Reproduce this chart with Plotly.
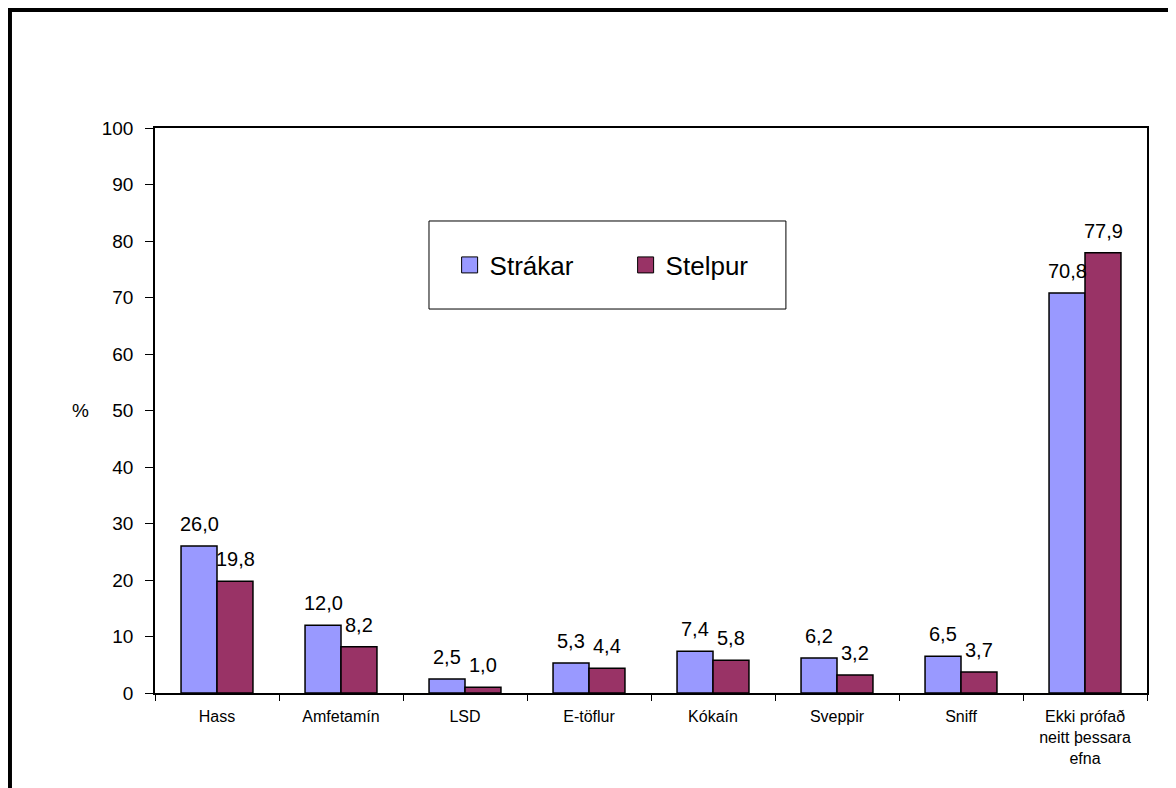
import plotly.graph_objects as go

categories = ["Hass", "Amfetamín", "LSD", "E-töflur", "Kókaín", "Sveppir", "Sniff",
              "Ekki prófað<br>neitt þessara<br>efna"]
strakar = [26.0, 12.0, 2.5, 5.3, 7.4, 6.2, 6.5, 70.8]
stelpur = [19.8, 8.2, 1.0, 4.4, 5.8, 3.2, 3.7, 77.9]
series_names = ["Strákar", "Stelpur"]
colors = ["#9999FF", "#993366"]
y_ticks = list(range(0, 101, 10))

FONT = "Arial, Liberation Sans, sans-serif"

def fmt(v):
    return f"{v:.1f}".replace(".", ",")

fig = go.Figure()
for name, vals, col in zip(series_names, [strakar, stelpur], colors):
    fig.add_trace(go.Bar(
        x=categories, y=vals, name=name, showlegend=False,
        marker=dict(color=col, line=dict(color="black", width=1.5)),
        hoverinfo="skip",
    ))
    # legend proxies with bigger squares
    fig.add_trace(go.Scatter(
        x=[None], y=[None], mode="markers", name=name, showlegend=True,
        marker=dict(symbol="square", size=16, color=col, line=dict(color="black", width=1)),
    ))

annotations = []
for vals, shift in zip([strakar, stelpur], [-18, 18]):
    for c, v in zip(categories, vals):
        annotations.append(dict(
            x=c, y=v, xref="x", yref="y", text=fmt(v), showarrow=False,
            xshift=shift, yshift=9, yanchor="bottom",
            font=dict(family=FONT, size=20, color="black"),
        ))

annotations.append(dict(
    x=-0.0756, y=0.5, xref="paper", yref="paper", text="%", showarrow=False,
    xanchor="center", yanchor="middle", font=dict(family=FONT, size=19, color="black"),
))

shapes = [
    # legend box
    dict(type="rect", xref="paper", yref="paper", x0=0.2762, x1=0.636, y0=0.6796, y1=0.8354,
         line=dict(color="black", width=1), fillcolor="rgba(0,0,0,0)", layer="above"),
    # outer border
    dict(type="rect", xref="paper", yref="paper", x0=-0.1462, x1=1.05, y0=-0.25, y1=1.2088,
         line=dict(color="black", width=4), fillcolor="rgba(0,0,0,0)"),
]

fig.update_layout(
    width=1168, height=780,
    margin=dict(l=147, r=29, t=120, b=95),
    paper_bgcolor="white", plot_bgcolor="white",
    barmode="group", bargap=0.42, bargroupgap=0,
    font=dict(family=FONT, color="black"),
    annotations=annotations, shapes=shapes,
    legend=dict(
        orientation="h", x=0.297, y=0.7575, xanchor="left", yanchor="middle",
        font=dict(family=FONT, size=26, color="black"),
        bgcolor="rgba(0,0,0,0)", borderwidth=0,
        entrywidth=131, entrywidthmode="pixels", itemsizing="trace",
    ),
)
fig.update_xaxes(
    showline=True, linecolor="black", linewidth=1.5, mirror=True,
    ticks="outside", tickson="boundaries", ticklen=6, tickcolor="black", tickwidth=1,
    ticklabelstandoff=8,
    tickfont=dict(family=FONT, size=16, color="black"),
    showgrid=False, zeroline=False,
)
fig.update_yaxes(
    range=[0, 100], tickvals=y_ticks, ticktext=[str(t) for t in y_ticks],
    showline=True, linecolor="black", linewidth=1.5, mirror=True,
    ticks="outside", ticklen=8, tickcolor="black", tickwidth=1,
    ticklabelstandoff=8,
    tickfont=dict(family=FONT, size=19, color="black"),
    showgrid=False, zeroline=False,
)

fig.write_html("out.html")
